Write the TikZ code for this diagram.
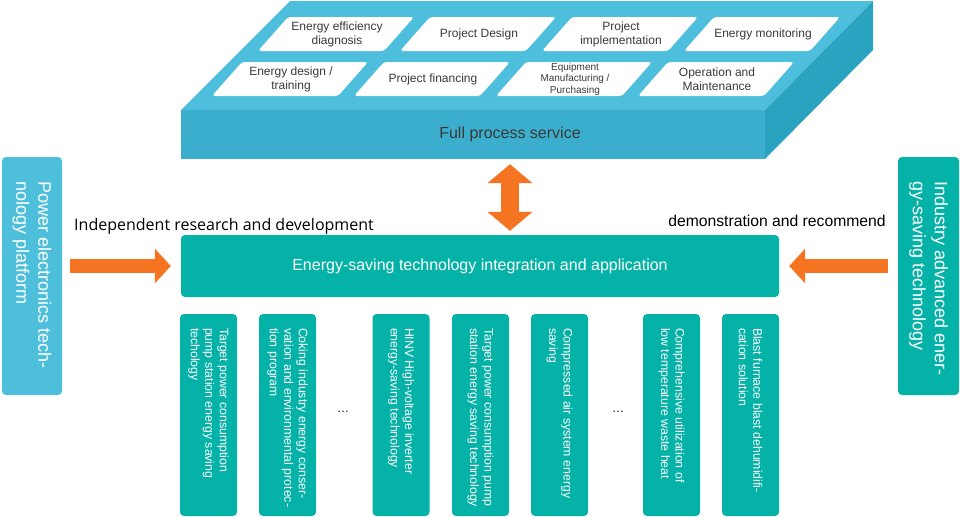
\documentclass[tikz,border=0pt]{standalone}
\usepackage{fontspec}
\setmainfont{Liberation Sans}
\newfontfamily\segoe{Open Sans}
\usetikzlibrary{arrows.meta,calc}
\definecolor{topc}{HTML}{4DBEDB}
\definecolor{frontc}{HTML}{3AAECC}
\definecolor{sidec}{HTML}{2AA3C0}
\definecolor{tealc}{HTML}{05B2A8}
\definecolor{lbluec}{HTML}{4DBFDB}
\definecolor{orngc}{HTML}{F47421}
\definecolor{tiletxtc}{HTML}{3A3A3A}
\begin{document}
\begin{tikzpicture}[x=1pt,y=-1pt,
  tiletxt/.style={font=\fontsize{12}{14}\selectfont, text=tiletxtc, align=center, inner sep=0pt},
  tealbox/.style={fill=tealc, rounded corners=4pt, inner sep=0pt},
  bluebox/.style={fill=lbluec, rounded corners=4pt, inner sep=0pt},
  vtext/.style={text=white, rotate=-90, anchor=west, align=left, inner sep=0pt},
  smallv/.style={vtext, font=\fontsize{12.3}{14.5}\selectfont},
  bigv/.style={vtext, font=\fontsize{18}{22}\selectfont},
  blockarrow/.style={draw=orngc, line width=14pt, -{Triangle[length=16pt,width=34pt]}},
  dblarrow/.style={draw=orngc, line width=18pt, {Triangle[length=19pt,width=44pt]}-{Triangle[length=19pt,width=44pt]}}
]
\useasboundingbox (0,0) rectangle (960,517);
\fill[white] (0,0) rectangle (960,517);

% platform
\fill[topc] (290,1) -- (873,1) -- (765,110) -- (181,110) -- cycle;
\fill[sidec] (765,110) -- (873,1) -- (873,50) -- (765,159) -- cycle;
\node[fill=frontc, minimum width=584pt, minimum height=49pt, inner sep=0pt] (front) at (473,134.5) {};
\node[font=\fontsize{16}{19}\selectfont, text=tiletxtc] (fps) at (510,134) {Full process service};

% tiles
\foreach \i in {0,1,2,3}{
  \fill[white, rounded corners=3pt] (288+142*\i,17) -- (414+142*\i,17) -- (384+142*\i,51) -- (258+142*\i,51) -- cycle;
  \fill[white, rounded corners=3pt] (242+142*\i,62) -- (368+142*\i,62) -- (338+142*\i,96) -- (212+142*\i,96) -- cycle;
}
\node[tiletxt] (t1) at (337,34) {Energy efficiency\\diagnosis};
\node[tiletxt] (t2) at (479,34) {Project Design};
\node[tiletxt] (t3) at (621,34) {Project\\implementation};
\node[tiletxt] (t4) at (763,34) {Energy monitoring};
\node[tiletxt] (t5) at (291,79) {Energy design /\\training};
\node[tiletxt] (t6) at (433,79) {Project financing};
\node[tiletxt, font=\fontsize{10}{11.5}\selectfont] (t7) at (575,79) {Equipment\\Manufacturing /\\Purchasing};
\node[tiletxt] (t8) at (717,79) {Operation and\\Maintenance};

% middle bar
\node[tealbox, minimum width=598pt, minimum height=62pt, text=white, font=\fontsize{16}{19}\selectfont] (bar) at (480,266) {Energy-saving technology integration and application};

% side boxes
\node[bluebox, minimum width=60pt, minimum height=238pt] (lbox) at (32,276) {};
\node[bigv] (lt) at ($(lbox.north)+(0,24)$) {Power electronics tech-\\nology platform};
\node[tealbox, minimum width=61pt, minimum height=238pt] (rbox) at (928.5,276) {};
\node[bigv] (rt) at ($(rbox.north)+(0,24)$) {Industry advanced ener-\\gy-saving technology};

% labels
\node[font=\segoe\fontsize{16}{19}\selectfont, text=black, inner sep=0pt] (ird) at (224,226) {Independent research and development};
\node[font=\fontsize{15.7}{19}\selectfont, text=black, inner sep=0pt] (dar) at (777,221) {demonstration and recommend};

% arrows
\draw[blockarrow, shorten <=8pt, shorten >=10pt] (lbox.east |- bar.west) -- (bar.west);
\draw[blockarrow, shorten <=10pt, shorten >=10pt] (rbox.west |- bar.east) -- (bar.east);
\draw[dblarrow, shorten <=5pt, shorten >=4pt] (fps.center |- front.south) -- (fps.center |- bar.north);

% bottom boxes
\node[tealbox, minimum width=57pt, minimum height=202pt] (b1) at (208.5,415) {};
\node[tealbox, minimum width=57pt, minimum height=202pt] (b2) at (287.5,415) {};
\node[tealbox, minimum width=57pt, minimum height=202pt] (b3) at (401,415) {};
\node[tealbox, minimum width=57pt, minimum height=202pt] (b4) at (480.5,415) {};
\node[tealbox, minimum width=57pt, minimum height=202pt] (b5) at (559.5,415) {};
\node[tealbox, minimum width=57pt, minimum height=202pt] (b6) at (671.5,415) {};
\node[tealbox, minimum width=57pt, minimum height=202pt] (b7) at (750.5,415) {};
\node[smallv] (bt1) at ($(b1.north)+(0,14)$) {Target power consumption\\pump station energy saving\\techology};
\node[smallv] (bt2) at ($(b2.north)+(0,14)$) {Coking industry energy conser-\\vation and environmental protec-\\tion program};
\node[smallv] (bt3) at ($(b3.north)+(0,14)$) {HINV High-voltage inverter\\energy-saving technology};
\node[smallv] (bt4) at ($(b4.north)+(0,14)$) {Target power consumption pump\\station energy saving technology};
\node[smallv] (bt5) at ($(b5.north)+(0,14)$) {Compressed air system energy\\saving};
\node[smallv] (bt6) at ($(b6.north)+(0,14)$) {Comprehensive utilization of\\low temperature waste heat};
\node[smallv] (bt7) at ($(b7.north)+(0,14)$) {Blast furnace blast dehumidifi-\\cation solution};
\node[font=\fontsize{12}{14}\selectfont] (d1) at (343,412) {…};
\node[font=\fontsize{12}{14}\selectfont] (d2) at (618,412) {…};
\end{tikzpicture}
\end{document}
